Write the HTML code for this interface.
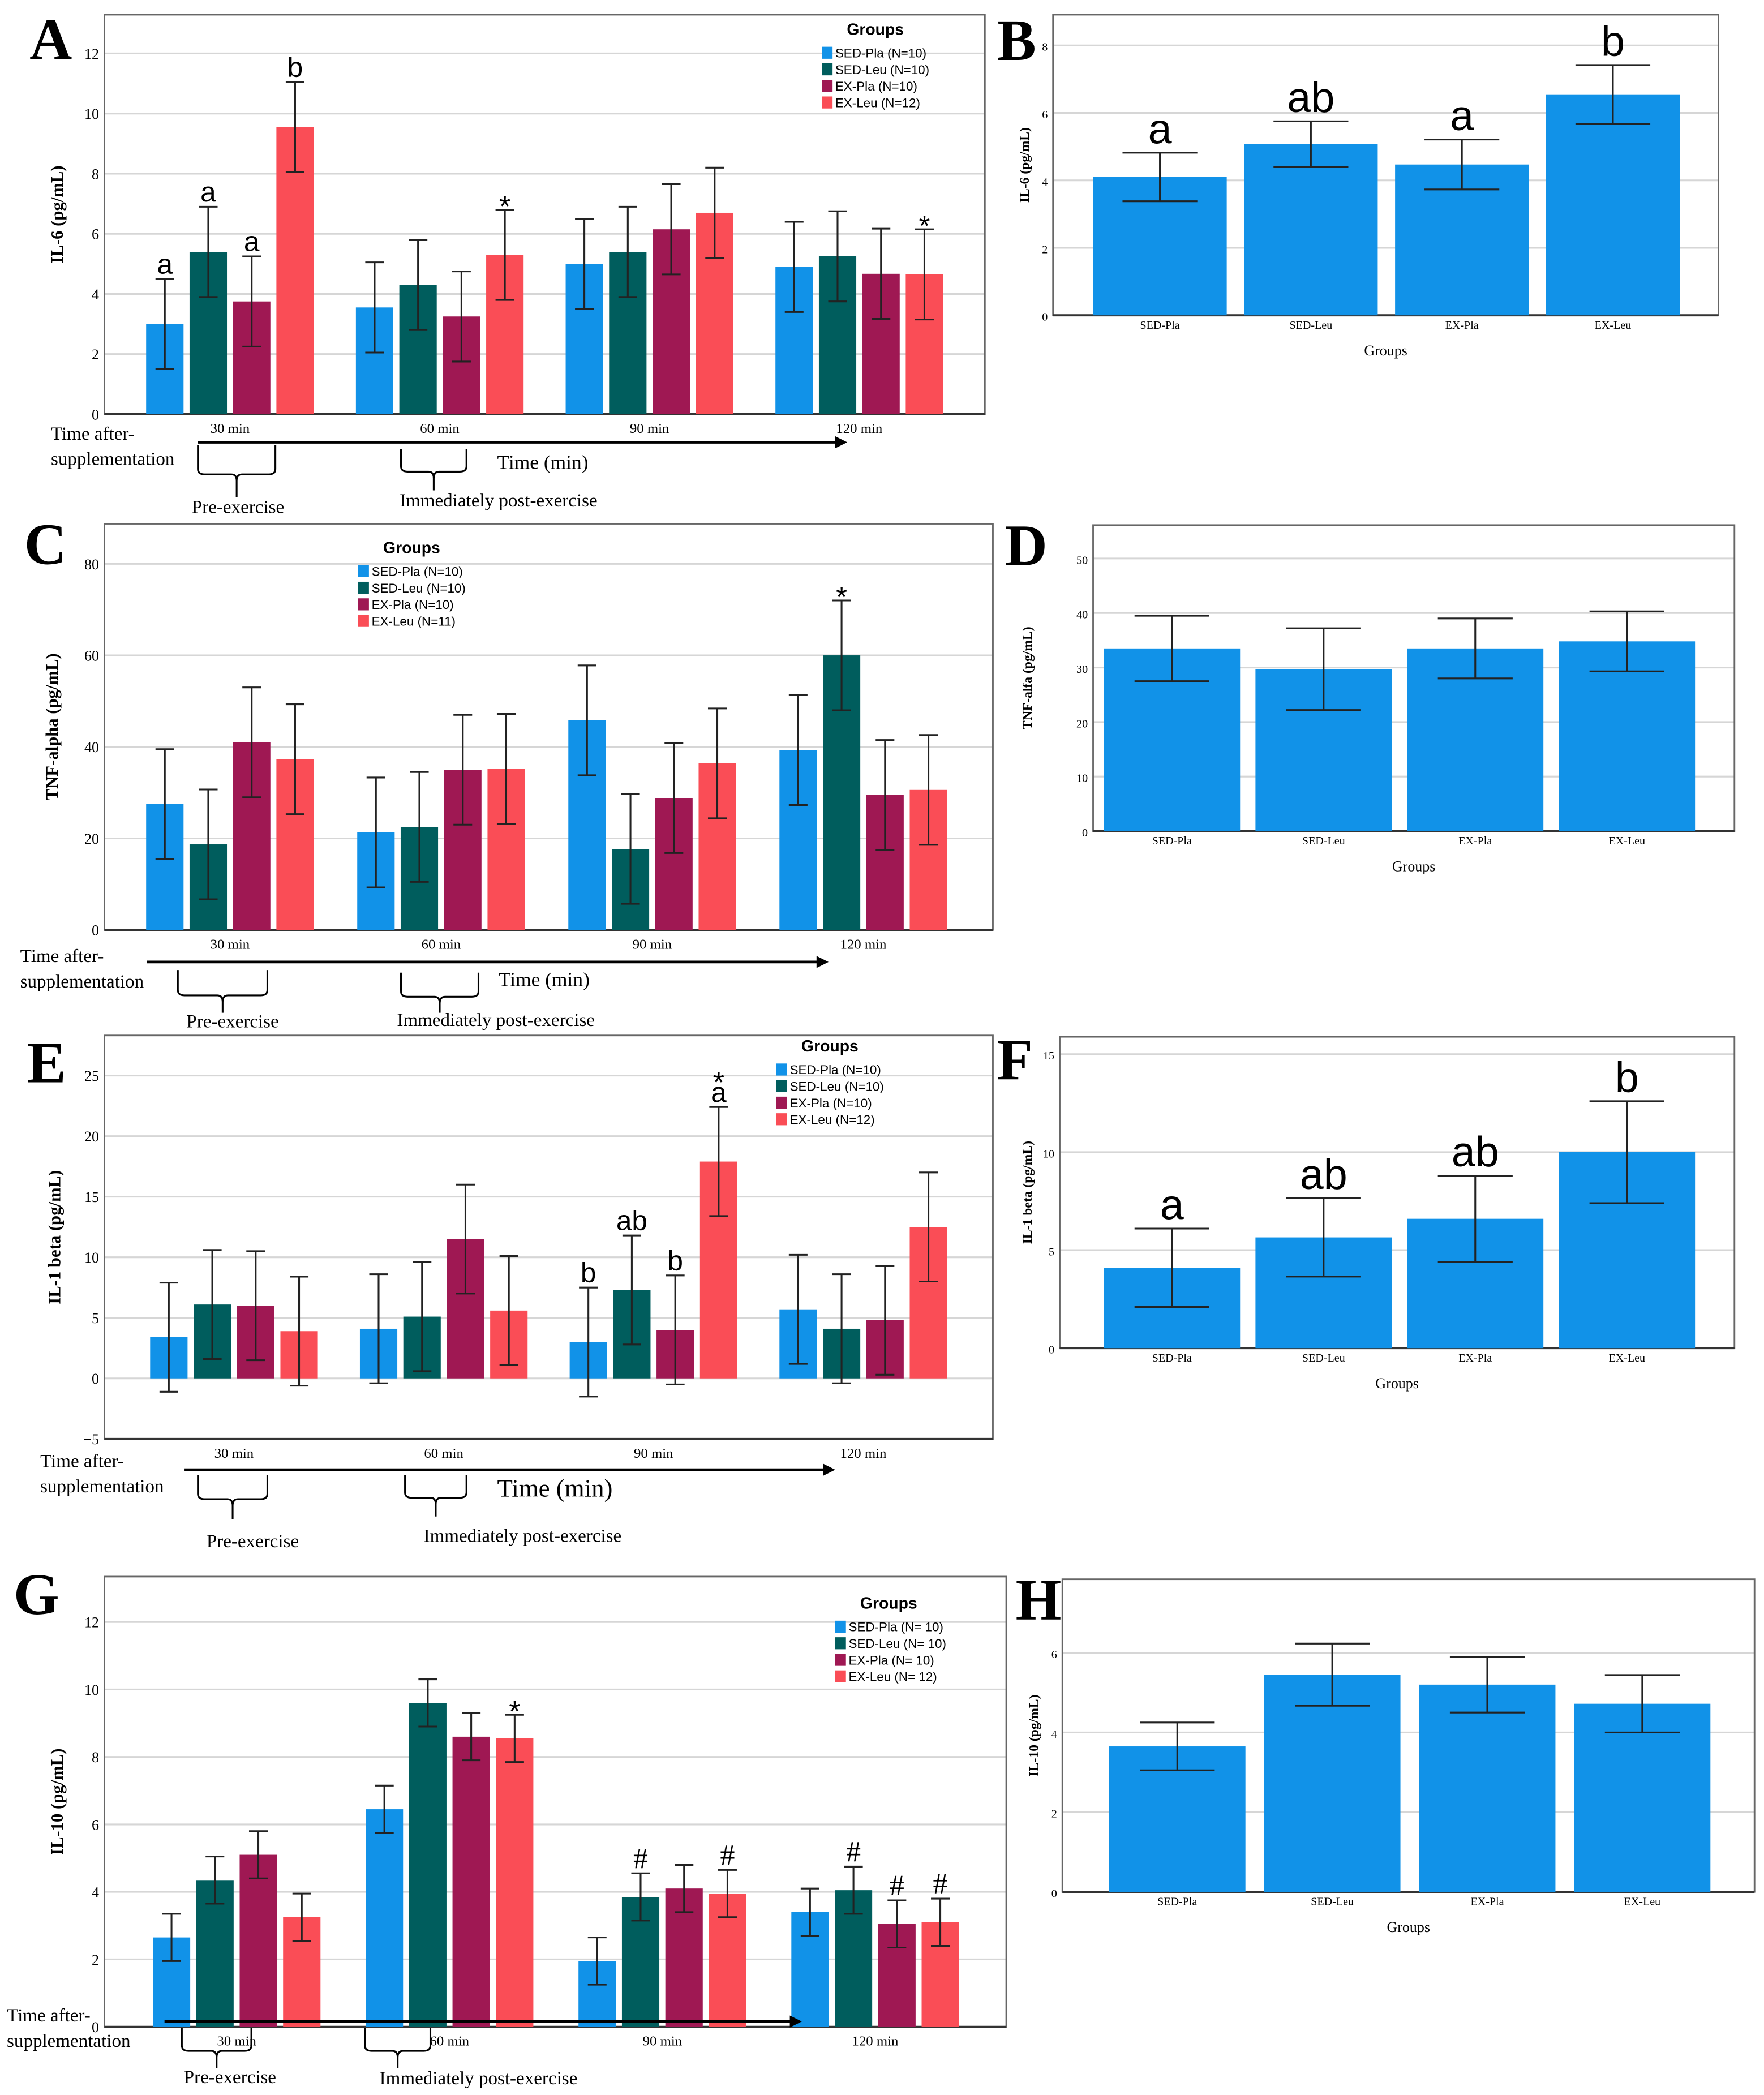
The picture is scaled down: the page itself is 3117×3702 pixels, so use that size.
<!DOCTYPE html>
<html><head><meta charset="utf-8">
<style>
html,body{margin:0;padding:0;background:#fff;}
svg{display:block;}
text{font-family:"Liberation Serif",serif;}
.sans{font-family:"Liberation Sans",sans-serif;}
</style></head>
<body>
<svg id="fig" width="3117" height="3702" viewBox="0 0 1320 1568" xmlns="http://www.w3.org/2000/svg"></svg>
<script>
// ---------- DATA ----------
const groupNames = ["SED-Pla","SED-Leu","EX-Pla","EX-Leu"];
const timeLabels = ["30 min","60 min","90 min","120 min"];
const colors = ["#1192e8","#005d5d","#9f1853","#fa4d56"];

// A: IL-6 by time
const il6Mean = [[3.0,5.4,3.75,9.55],[3.55,4.3,3.25,5.3],[5.0,5.4,6.15,6.7],[4.9,5.25,4.67,4.65]];
const il6Err = [[1.5,1.5,1.5,1.5],[1.5,1.5,1.5,1.5],[1.5,1.5,1.5,1.5],[1.5,1.5,1.5,1.5]];
const il6Ticks = [0,2,4,6,8,10,12];
const il6Legend = ["SED-Pla (N=10)","SED-Leu (N=10)","EX-Pla (N=10)","EX-Leu (N=12)"];
const il6Notes = [[0,0,"a"],[0,1,"a"],[0,2,"a"],[0,3,"b"],[1,3,"*"],[3,3,"*"]];
// B
const il6GroupMean = [4.1,5.07,4.47,6.55];
const il6GroupErr = [0.72,0.68,0.74,0.87];
const il6GroupTicks = [0,2,4,6,8];
const il6GroupNotes = ["a","ab","a","b"];

// C: TNF-alpha
const tnfMean = [[27.5,18.7,41,37.3],[21.3,22.5,35,35.2],[45.8,17.7,28.8,36.4],[39.3,60,29.5,30.6]];
const tnfErr = [[12,12,12,12],[12,12,12,12],[12,12,12,12],[12,12,12,12]];
const tnfTicks = [0,20,40,60,80];
const tnfLegend = ["SED-Pla (N=10)","SED-Leu (N=10)","EX-Pla (N=10)","EX-Leu (N=11)"];
const tnfNotes = [[3,1,"*"]];
// D
const tnfGroupMean = [33.5,29.7,33.5,34.8];
const tnfGroupErr = [6,7.5,5.5,5.5];
const tnfGroupTicks = [0,10,20,30,40,50];

// E: IL-1 beta
const il1Mean = [[3.4,6.1,6.0,3.9],[4.1,5.1,11.5,5.6],[3.0,7.3,4.0,17.9],[5.7,4.1,4.8,12.5]];
const il1Err = [[4.5,4.5,4.5,4.5],[4.5,4.5,4.5,4.5],[4.5,4.5,4.5,4.5],[4.5,4.5,4.5,4.5]];
const il1Ticks = [-5,0,5,10,15,20,25];
const il1Legend = ["SED-Pla (N=10)","SED-Leu (N=10)","EX-Pla (N=10)","EX-Leu (N=12)"];
const il1Notes = [[2,0,"b"],[2,1,"ab"],[2,2,"b"],[2,3,"a"],[2,3,"*"]];
// F
const il1GroupMean = [4.1,5.65,6.6,10.0];
const il1GroupErr = [2.0,2.0,2.2,2.6];
const il1GroupTicks = [0,5,10,15];
const il1GroupNotes = ["a","ab","ab","b"];

// G: IL-10
const il10Mean = [[2.65,4.35,5.1,3.25],[6.45,9.6,8.6,8.55],[1.95,3.85,4.1,3.95],[3.4,4.05,3.05,3.1]];
const il10Err = [[0.7,0.7,0.7,0.7],[0.7,0.7,0.7,0.7],[0.7,0.7,0.7,0.7],[0.7,0.7,0.7,0.7]];
const il10Ticks = [0,2,4,6,8,10,12];
const il10Legend = ["SED-Pla (N= 10)","SED-Leu (N= 10)","EX-Pla (N= 10)","EX-Leu (N= 12)"];
const il10Notes = [[1,3,"*"],[2,1,"#"],[2,3,"#"],[3,1,"#"],[3,2,"#"],[3,3,"#"]];
// H
const il10GroupMean = [3.65,5.45,5.2,4.72];
const il10GroupErr = [0.6,0.78,0.7,0.72];
const il10GroupTicks = [0,2,4,6];

// ---------- DRAWING ----------
const NS="http://www.w3.org/2000/svg";
const svg=document.getElementById('fig');
function mk(tag,attrs,parent,txt){const e=document.createElementNS(NS,tag);for(const k in attrs)e.setAttribute(k,attrs[k]);if(txt!==undefined)e.textContent=txt;(parent||svg).appendChild(e);return e;}

function axisFrame(g,c){
  const y=v=>c.y0-(v-c.vmin)*(c.y0-c.yTop)/(c.vTop-c.vmin);
  const frame=mk('g',{},g);
  
  
  c.ticks.forEach(t=>{
    const gl=mk('line',{x1:c.x0,x2:c.x1,y1:y(t),y2:y(t),stroke:'#d6d6d6','stroke-width':1.3},frame);
    
    
    const tl=mk('text',{x:c.x0-4,y:y(t)+4,'text-anchor':'end','font-size':c.tickSize||11},frame,String(t).replace('-','\u2212'));
    
    
  });
  const bx=mk('rect',{x:c.x0,y:c.boxTop,width:c.x1-c.x0,height:c.boxBottom-c.boxTop,fill:'none',stroke:'#666','stroke-width':1.2},frame);
  
  
  const zl=mk('line',{x1:c.x0,x2:c.x1,y1:c.boxBottom,y2:c.boxBottom,stroke:'#333','stroke-width':1.6},frame);
  
  
  const cy=(c.boxTop+c.boxBottom)/2;
  const yt=mk('text',{x:c.yTitleX,y:cy,transform:`rotate(-90 ${c.yTitleX} ${cy})`,'text-anchor':'middle','font-size':c.yTitleSize||13,'font-weight':'bold'},frame,c.yTitle);
  
  
  const pl=mk('text',{x:c.letterX,y:c.letterY,'font-size':44,'font-weight':'bold'},g,c.letter);
  
  
  return y;
}
function errBar(g,x,yTop,yBot,hw){
  const e=mk('g',{stroke:'#222','stroke-width':1.3},g);
  
  
  mk('line',{x1:x,x2:x,y1:yTop,y2:yBot},e);
  mk('line',{x1:x-hw,x2:x+hw,y1:yTop,y2:yTop},e);
  mk('line',{x1:x-hw,x2:x+hw,y1:yBot,y2:yBot},e);
}
function grouped(c,means,errs,legend,notes){
  const g=mk('g',{});
  
  
  const y=axisFrame(g,c);
  const bw=28,step=32.5;
  const bx=(gi,si)=>c.c0+gi*c.band+(si-1.5)*step-bw/2;
  means.forEach((row,gi)=>{
    row.forEach((v,si)=>{
      const r=mk('rect',{x:bx(gi,si),y:Math.min(y(v),y(0)),width:bw,height:Math.abs(y(0)-y(v)),fill:colors[si]},g);
      
      
    });
    row.forEach((v,si)=>errBar(g,bx(gi,si)+bw/2,y(v+errs[gi][si]),y(v-errs[gi][si]),7));
    const tl=mk('text',{x:c.c0+gi*c.band,y:c.boxBottom+14,'text-anchor':'middle','font-size':10.5},g,timeLabels[gi]);
    
    
  });
  // notes
  const stack={};
  notes.forEach(([gi,si,t])=>{
    const key=gi+'_'+si;const off=stack[key]||0;stack[key]=off+16;
    const yy=y(means[gi][si]+errs[gi][si])-4-off;
    const isStar=t==='*';
    const n=mk('text',{x:bx(gi,si)+bw/2,y:yy+(isStar?9:0),'text-anchor':'middle','font-size':t==='#'?22:(isStar?22:c.noteSize||21),class:t==='#'?'':'sans'},g,t);
    
    
  });
  // legend
  const lg=mk('g',{},g);
  
  
  const gt=mk('text',{x:c.legX+40,y:c.legY,'text-anchor':'middle','font-size':12,'font-weight':'bold',class:'sans'},lg,'Groups');
  
  
  legend.forEach((t,i)=>{
    const yy=c.legY+17+i*12.4;
    const sw=mk('rect',{x:c.legX,y:yy-8,width:8,height:9,fill:colors[i]},lg);
    
    
    const lt=mk('text',{x:c.legX+10,y:yy,'font-size':9.5,class:'sans'},lg,t);
    
    
  });
  // time annotations
  const a=c.ann;
  const an=mk('g',{},g);
  
  
  mk('text',{x:a.tx,y:a.ty,'font-size':14},an,'Time after-');
  mk('text',{x:a.tx,y:a.ty+19,'font-size':14},an,'supplementation');
  const ar=mk('line',{x1:a.ax0,x2:a.ax1,y1:a.ay,y2:a.ay,stroke:'#000','stroke-width':2},an);
  
  
  mk('polygon',{points:`${a.ax1+8},${a.ay} ${a.ax1-1},${a.ay-4.5} ${a.ax1-1},${a.ay+4.5}`,fill:'#000'},an);
  mk('text',{x:a.tmx,y:a.tmy,'font-size':a.tmSize||15},an,'Time (min)');
  a.braces.forEach(b=>{
    const m=(b[0]+b[1])/2;
    const p=mk('path',{d:`M${b[0]},${b[2]} L${b[0]},${b[3]-4} Q${b[0]},${b[3]} ${b[0]+5},${b[3]} L${m-4},${b[3]} Q${m},${b[3]} ${m},${b[3]+5} L${m},${b[4]} M${m},${b[3]+5} Q${m},${b[3]} ${m+4},${b[3]} L${b[1]-5},${b[3]} Q${b[1]},${b[3]} ${b[1]},${b[3]-4} L${b[1]},${b[2]}`,fill:'none',stroke:'#000','stroke-width':1.3},an);
    
    
    mk('text',{x:b[5],y:b[6],'text-anchor':'middle','font-size':14},an,b[7]);
  });
}
function single(c,means,errs,notes){
  const g=mk('g',{});
  
  
  const y=axisFrame(g,c);
  const bw=c.bw;
  means.forEach((v,i)=>{
    const cx=c.c0+i*c.band;
    const r=mk('rect',{x:cx-bw/2,y:y(v),width:bw,height:y(0)-y(v),fill:'#1192e8'},g);
    
    
    errBar(g,cx,y(v+errs[i]),y(v-errs[i]),28);
    const tl=mk('text',{x:cx,y:c.boxBottom+10,'text-anchor':'middle','font-size':8.5},g,groupNames[i]);
    
    
    if(notes){
      const n=mk('text',{x:cx,y:y(v+errs[i])-7,'text-anchor':'middle','font-size':32,class:'sans'},g,notes[i]);
      
      
    }
  });
  const xt=mk('text',{x:(c.x0+c.x1)/2,y:c.boxBottom+30,'text-anchor':'middle','font-size':11},g,'Groups');
  
  
}

// A
grouped({name:'panel-a-il6-time',x0:78,x1:737,boxTop:11,boxBottom:310,y0:310,yTop:40,vmin:0,vTop:12,ticks:il6Ticks,
 yTitle:'IL-6 (pg/mL)',yTitleX:47,letter:'A',letterX:22,letterY:44,c0:172,band:157,legX:615,legY:26,
 ann:{tx:38,ty:329,ax0:148,ax1:626,ay:331,tmx:372,tmy:351,braces:[[148,206,333,355,372,178,384,'Pre-exercise'],[300,349,336,353,367,373,379,'Immediately post-exercise']]}},
 il6Mean,il6Err,il6Legend,il6Notes);
// B
single({name:'panel-b-il6-group',x0:788,x1:1286,boxTop:11,boxBottom:236,y0:236,yTop:34,vmin:0,vTop:8,ticks:il6GroupTicks,tickSize:8.5,
 yTitle:'IL-6 (pg/mL)',yTitleX:770,yTitleSize:10,letter:'B',letterX:746,letterY:45,c0:868,band:113,bw:100},il6GroupMean,il6GroupErr,il6GroupNotes);
// C
grouped({name:'panel-c-tnf-time',x0:78,x1:743,boxTop:392,boxBottom:696,y0:696,yTop:422,vmin:0,vTop:80,ticks:tnfTicks,
 yTitle:'TNF-alpha (pg/mL)',yTitleX:43,letter:'C',letterX:18,letterY:422,c0:172,band:158,legX:268,legY:414,
 ann:{tx:15,ty:720,ax0:110,ax1:612,ay:720,tmx:373,tmy:738,braces:[[133,200,726,745,758,174,769,'Pre-exercise'],[300,358,728,746,758,371,768,'Immediately post-exercise']]}},
 tnfMean,tnfErr,tnfLegend,tnfNotes);
// D
single({name:'panel-d-tnf-group',x0:818,x1:1298,boxTop:393,boxBottom:622,y0:622,yTop:418,vmin:0,vTop:50,ticks:tnfGroupTicks,tickSize:8.5,
 yTitle:'TNF-alfa (pg/mL)',yTitleX:772,yTitleSize:10,letter:'D',letterX:752,letterY:423,c0:877,band:113.5,bw:102},tnfGroupMean,tnfGroupErr,null);
// E
grouped({name:'panel-e-il1-time',x0:78,x1:743,boxTop:775,boxBottom:1077,y0:1077,yTop:805,vmin:-5,vTop:25,ticks:il1Ticks,
 yTitle:'IL-1 beta (pg/mL)',yTitleX:45,letter:'E',letterX:20,letterY:810,c0:175,band:157,legX:581,legY:787,noteSize:21,
 ann:{tx:30,ty:1098,ax0:138,ax1:617,ay:1100,tmx:372,tmy:1120,tmSize:19,braces:[[148,200,1104,1122,1137,189,1158,'Pre-exercise'],[303,349,1104,1121,1135,391,1154,'Immediately post-exercise']]}},
 il1Mean,il1Err,il1Legend,il1Notes);
// F
single({name:'panel-f-il1-group',x0:793,x1:1298,boxTop:776,boxBottom:1009,y0:1009,yTop:789,vmin:0,vTop:15,ticks:il1GroupTicks,tickSize:8.5,
 yTitle:'IL-1 beta (pg/mL)',yTitleX:772,yTitleSize:10,letter:'F',letterX:746,letterY:808,c0:877,band:113.5,bw:102},il1GroupMean,il1GroupErr,il1GroupNotes);
// G
grouped({name:'panel-g-il10-time',x0:78,x1:753,boxTop:1180,boxBottom:1517,y0:1517,yTop:1214,vmin:0,vTop:12,ticks:il10Ticks,
 yTitle:'IL-10 (pg/mL)',yTitleX:47,letter:'G',letterX:10,letterY:1208,c0:177,band:159.3,legX:625,legY:1204,
 ann:{tx:5,ty:1513,ax0:123,ax1:592,ay:1513,tmx:-200,tmy:-200,braces:[[136,188,1518,1535,1548,172,1559,'Pre-exercise'],[273,322,1518,1535,1548,358,1560,'Immediately post-exercise']]}},
 il10Mean,il10Err,il10Legend,il10Notes);
// H
single({name:'panel-h-il10-group',x0:795,x1:1313,boxTop:1182,boxBottom:1416,y0:1416,yTop:1237,vmin:0,vTop:6,ticks:il10GroupTicks,tickSize:8.5,
 yTitle:'IL-10 (pg/mL)',yTitleX:777,yTitleSize:10,letter:'H',letterX:760,letterY:1212,c0:881,band:116,bw:102},il10GroupMean,il10GroupErr,null);
</script>
</body></html>
